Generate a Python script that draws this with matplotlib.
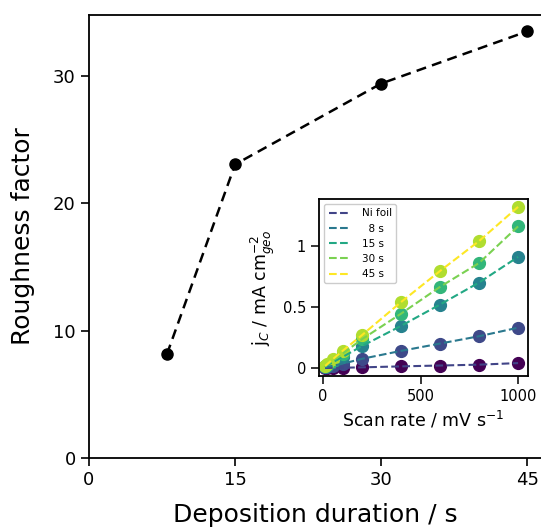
import numpy as np
import matplotlib
matplotlib.use('Agg')
import matplotlib.pyplot as plt
from matplotlib.ticker import FuncFormatter

# ── DATA ──────────────────────────────────────────────────
duration = [8, 15, 30, 45]
roughness = [8.15, 23.05, 29.4, 33.5]

scan_rate = [10, 20, 50, 100, 200, 400, 600, 800, 1000]
series_labels = ['Ni foil', '  8 s', '15 s', '30 s', '45 s']
jc_ni = [0.0, 0.0, 0.001, 0.002, 0.005, 0.013, 0.02, 0.027, 0.04]
jc_8s = [0.004, 0.008, 0.018, 0.035, 0.075, 0.14, 0.2, 0.26, 0.33]
jc_15s = [0.01, 0.02, 0.047, 0.09, 0.18, 0.345, 0.52, 0.70, 0.91]
jc_30s = [0.013, 0.026, 0.06, 0.118, 0.236, 0.445, 0.665, 0.86, 1.16]
jc_45s = [0.016, 0.03, 0.072, 0.14, 0.27, 0.54, 0.795, 1.04, 1.32]
jc_all = [jc_ni, jc_8s, jc_15s, jc_30s, jc_45s]

plt.rcParams['font.family'] = 'DejaVu Sans'

fig = plt.figure(figsize=(5.41, 5.27), dpi=100)

# ── MAIN AXES ─────────────────────────────────────────────
ax = fig.add_axes([0.1645, 0.131, 0.8355, 0.841])
ax.plot(duration, roughness, 'k--', lw=1.8, marker='o', ms=8, dashes=(4, 2.5))
ax.set_xlim(0, 46.4)
ax.set_ylim(0, 34.8)
ax.set_xticks([0, 15, 30, 45])
ax.set_yticks([0, 10, 20, 30])
ax.tick_params(labelsize=13, width=1.2, length=6)
ax.spines['right'].set_visible(False)
for s in ['left', 'bottom', 'top']:
    ax.spines[s].set_linewidth(1.3)
ax.set_xlabel('Deposition duration / s', fontsize=18, labelpad=10)
ax.set_ylabel('Roughness factor', fontsize=18, labelpad=13)

# ── INSET ─────────────────────────────────────────────────
ins = fig.add_axes([0.590, 0.2865, 0.386, 0.336])
cmap = plt.get_cmap('viridis')
marker_cols = cmap(np.linspace(0, 0.88, 5))
line_cols = cmap(np.linspace(0.2, 1.0, 5))

for jc, mc, lc, lab in zip(jc_all, marker_cols, line_cols, series_labels):
    ins.plot(scan_rate, jc, 'o', color=mc, ms=8.5, zorder=2)
    ins.plot(scan_rate, jc, '--', color=lc, lw=1.5, label=lab, zorder=3)

ins.set_xlim(-20, 1051)
ins.set_ylim(-0.066, 1.385)
ins.set_xticks([0, 500, 1000])
ins.set_yticks([0, 0.5, 1])
ins.yaxis.set_major_formatter(FuncFormatter(lambda v, p: f'{v:g}'))
ins.tick_params(labelsize=10.5, width=1.1, length=6)
for s in ins.spines.values():
    s.set_linewidth(1.3)
ins.set_xlabel(r'Scan rate / mV s$^{-1}$', fontsize=12.5)
ins.set_ylabel(r'j$_C$ / mA cm$^{-2}_{geo}$', fontsize=12.5)
ins.legend(loc='upper left', fontsize=7.5, handlelength=2.2, framealpha=1,
           borderpad=0.4, labelspacing=0.5, handletextpad=1.0)

plt.savefig('out.png', dpi=100)
